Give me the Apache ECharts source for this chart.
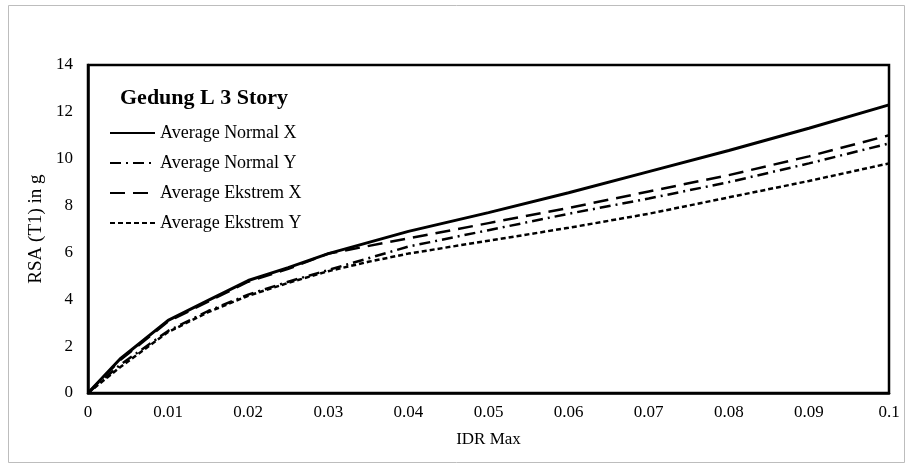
<!DOCTYPE html>
<html>
<head>
<meta charset="utf-8">
<script src="https://cdn.jsdelivr.net/npm/echarts@6/dist/echarts.min.js"></script>
<style>
  html, body { margin: 0; padding: 0; background: #fff; }
  #chart { width: 905px; height: 468px; }
</style>
</head>
<body>
<div id="chart"></div>
<script>
// Pushover curves: spectral acceleration vs. maximum inter-story drift ratio
const seriesNames = ['Average Normal X', 'Average Normal Y', 'Average Ekstrem X', 'Average Ekstrem Y'];

const normalX = [[0,0],[0.004,1.45],[0.01,3.1],[0.015,3.95],[0.02,4.8],[0.025,5.35],[0.03,5.95],
  [0.04,6.9],[0.05,7.7],[0.06,8.55],[0.07,9.45],[0.08,10.35],[0.09,11.3],[0.1,12.3]];
const normalY = [[0,0],[0.004,1.2],[0.01,2.65],[0.015,3.5],[0.02,4.2],[0.025,4.75],[0.03,5.25],
  [0.035,5.75],[0.04,6.25],[0.05,6.95],[0.06,7.65],[0.07,8.3],[0.08,9.0],[0.09,9.8],[0.1,10.65]];
const ekstremX = [[0,0],[0.004,1.4],[0.01,3.05],[0.015,3.9],[0.02,4.75],[0.025,5.3],[0.03,5.95],
  [0.04,6.6],[0.05,7.25],[0.06,7.9],[0.07,8.6],[0.08,9.3],[0.09,10.1],[0.1,11.0]];
const ekstremY = [[0,0],[0.004,1.1],[0.01,2.6],[0.015,3.45],[0.02,4.15],[0.025,4.7],[0.03,5.2],
  [0.035,5.6],[0.04,5.95],[0.05,6.5],[0.06,7.05],[0.07,7.65],[0.08,8.35],[0.09,9.05],[0.1,9.8]];

const xTicks = { min: 0, max: 0.1, interval: 0.01 };
const yTicks = { min: 0, max: 14, interval: 2 };

const FONT = 'Liberation Serif';
const chart = echarts.init(document.getElementById('chart'));

function line(name, data, width, dash) {
  return {
    name: name,
    type: 'line',
    data: data,
    showSymbol: false,
    symbol: 'none',
    smooth: false,
    animation: false,
    color: '#000',
    itemStyle: { color: '#000' },
    lineStyle: { color: '#000', width: width, type: dash }
  };
}

chart.setOption({
  backgroundColor: '#fff',
  animation: false,
  color: ['#000'],
  textStyle: { fontFamily: FONT, color: '#000' },
  graphic: [{
    type: 'rect',
    shape: { x: 8.5, y: 5.5, width: 896, height: 457 },
    style: { fill: 'none', stroke: '#bdbdbd', lineWidth: 1 },
    silent: true
  }],
  title: {
    text: 'Gedung L 3 Story',
    left: 120, top: 87,
    padding: 0,
    textStyle: { fontFamily: FONT, fontSize: 22, fontWeight: 'bold', color: '#000' }
  },
  legend: {
    orient: 'vertical',
    left: 109, top: 124,
    padding: 0,
    itemWidth: 45, itemHeight: 14,
    itemGap: 12,
    itemStyle: { opacity: 0 },
    textStyle: { fontFamily: FONT, fontSize: 18, color: '#000' },
    data: seriesNames
  },
  grid: { left: 88, right: 16, top: 65, bottom: 75, show: true, borderColor: '#000', borderWidth: 2.5, containLabel: false },
  xAxis: {
    type: 'value',
    min: xTicks.min, max: xTicks.max, interval: xTicks.interval,
    name: 'IDR Max', nameLocation: 'middle', nameGap: 38,
    nameTextStyle: { fontFamily: FONT, fontSize: 17, color: '#000' },
    axisLine: { show: true, lineStyle: { color: '#000', width: 2.5 } },
    axisTick: { show: false },
    splitLine: { show: false },
    axisLabel: { fontFamily: FONT, fontSize: 17, color: '#000', margin: 11,
      formatter: v => String(Math.round(v * 100) / 100) }
  },
  yAxis: {
    type: 'value',
    min: yTicks.min, max: yTicks.max, interval: yTicks.interval,
    name: 'RSA (T1) in g', nameLocation: 'middle', nameGap: 31,
    nameTextStyle: { fontFamily: FONT, fontSize: 19, color: '#000' },
    axisLine: { show: true, lineStyle: { color: '#000', width: 2.5 } },
    axisTick: { show: false },
    splitLine: { show: false },
    axisLabel: { fontFamily: FONT, fontSize: 17, color: '#000', margin: 15 }
  },
  series: [
    line(seriesNames[0], normalX, 3, 'solid'),
    line(seriesNames[1], normalY, 2.5, [11, 5, 2, 5]),
    line(seriesNames[2], ekstremX, 2.5, [15, 8]),
    line(seriesNames[3], ekstremY, 2.5, [5, 3])
  ]
});
</script>
</body>
</html>
